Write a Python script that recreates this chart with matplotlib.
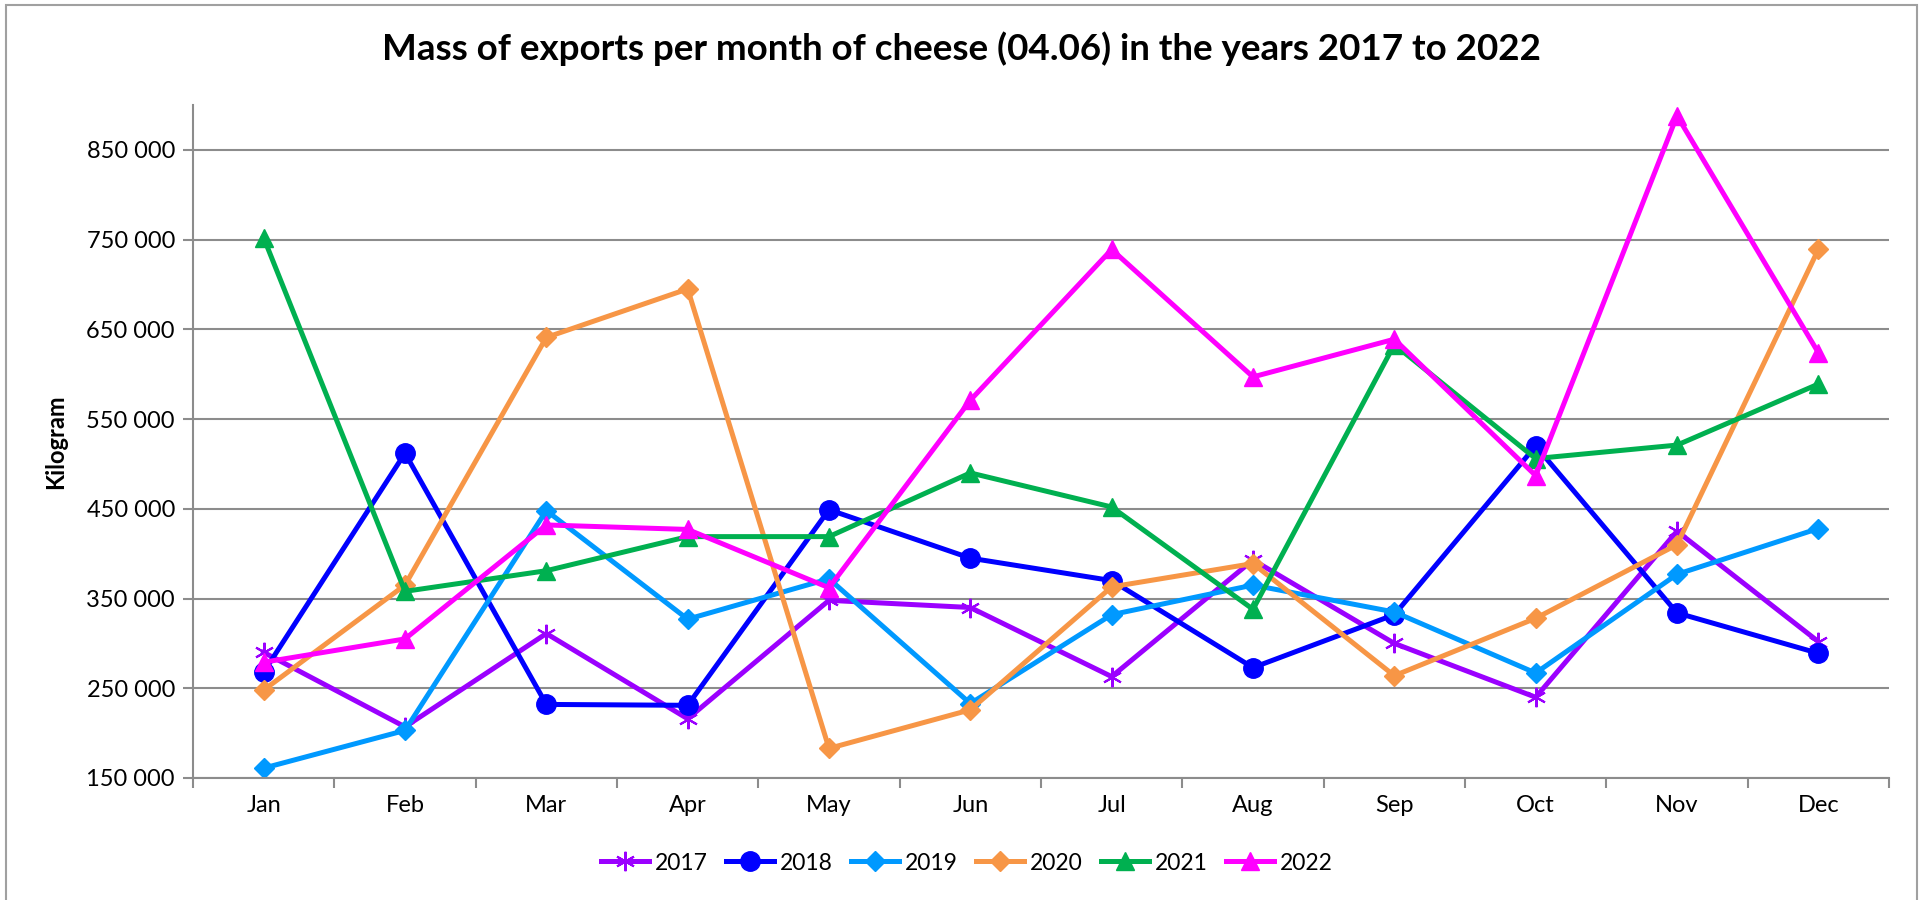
import matplotlib
matplotlib.use("Agg")
import matplotlib.pyplot as plt
from matplotlib.patches import Rectangle

months = ["Jan", "Feb", "Mar", "Apr", "May", "Jun", "Jul", "Aug", "Sep", "Oct", "Nov", "Dec"]
y2017 = [290000, 207000, 311000, 216000, 348000, 340000, 263000, 393000, 300000, 240000, 425000, 302000]
y2018 = [268000, 512000, 232000, 231000, 449000, 395000, 370000, 273000, 332000, 520000, 334000, 289000]
y2019 = [161000, 203000, 448000, 327000, 372000, 233000, 332000, 365000, 335000, 267000, 377000, 428000]
y2020 = [248000, 365000, 641000, 695000, 183000, 226000, 363000, 389000, 264000, 328000, 410000, 739000]
y2021 = [752000, 358000, 381000, 419000, 419000, 490000, 452000, 338000, 633000, 506000, 521000, 589000]
y2022 = [279000, 305000, 432000, 427000, 362000, 571000, 739000, 597000, 639000, 487000, 888000, 624000]
yticks = [150000, 250000, 350000, 450000, 550000, 650000, 750000, 850000]
ytick_labels = ["150 000", "250 000", "350 000", "450 000", "550 000", "650 000", "750 000", "850 000"]

series = [
    ("2017", y2017, "#9B00FF", (6, 2, 0)),
    ("2018", y2018, "#0000FF", "o"),
    ("2019", y2019, "#0099FF", "D"),
    ("2020", y2020, "#F79646", "D"),
    ("2021", y2021, "#00B050", "^"),
    ("2022", y2022, "#FF00FF", "^"),
]

plt.rcParams['font.family'] = ['Lato', 'DejaVu Sans']

fig = plt.figure(figsize=(19.19, 9.0), dpi=100)
fig.patches.append(Rectangle((6/1919, -0.1), (1917-6)/1919, 1.1 - 5/900, transform=fig.transFigure,
                             fill=False, edgecolor="#A0A0A0", linewidth=1.5))
ax = fig.add_axes([193/1919, 1-778/900, (1889-193)/1919, (778-105)/900])

x = list(range(len(months)))
for name, vals, col, mk in series:
    if mk == (6, 2, 0):
        ax.plot(x, vals, color=col, linewidth=3.6, marker=mk, markersize=14,
                markeredgewidth=1.5, markeredgecolor=col, label=name)
    else:
        ms = {"o": 14, "D": 10, "^": 13}[mk]
        ax.plot(x, vals, color=col, linewidth=3.6, marker=mk, markersize=ms,
                markeredgecolor=col, markerfacecolor=col, label=name)

ax.set_xlim(-0.5, 11.5)
ax.set_ylim(150000, 900000)
ax.set_yticks(yticks)
ax.set_yticklabels(ytick_labels, fontsize=17)
ax.set_xticks(x)
ax.set_xticklabels(months, fontsize=17)
ax.set_xticks([i - 0.5 for i in range(13)], minor=True)
ax.tick_params(axis='x', which='major', length=0, pad=12)
ax.tick_params(axis='x', which='minor', length=7, color="#8C8C8C", width=1.5)
ax.tick_params(axis='y', length=7, color="#8C8C8C", width=1.5, pad=6)
ax.yaxis.grid(True, color="#8C8C8C", linewidth=1.5)
ax.set_axisbelow(True)
for s in ["top", "right"]:
    ax.spines[s].set_visible(False)
for s in ["left", "bottom"]:
    ax.spines[s].set_color("#8C8C8C")
    ax.spines[s].set_linewidth(1.5)

ax.set_ylabel("Kilogram", fontsize=17, fontweight="bold", labelpad=14)
fig.text(961/1919, 1-49/900, "Mass of exports per month of cheese (04.06) in the years 2017 to 2022",
         ha="center", va="center", fontsize=26.5, fontweight="bold")

leg = fig.legend(loc="center", bbox_to_anchor=(967/1919, 1-863/900), ncol=6, frameon=False,
                 fontsize=16.5, handlelength=2.1, columnspacing=0.8, handletextpad=0.25)

fig.savefig("out.png", dpi=100)
